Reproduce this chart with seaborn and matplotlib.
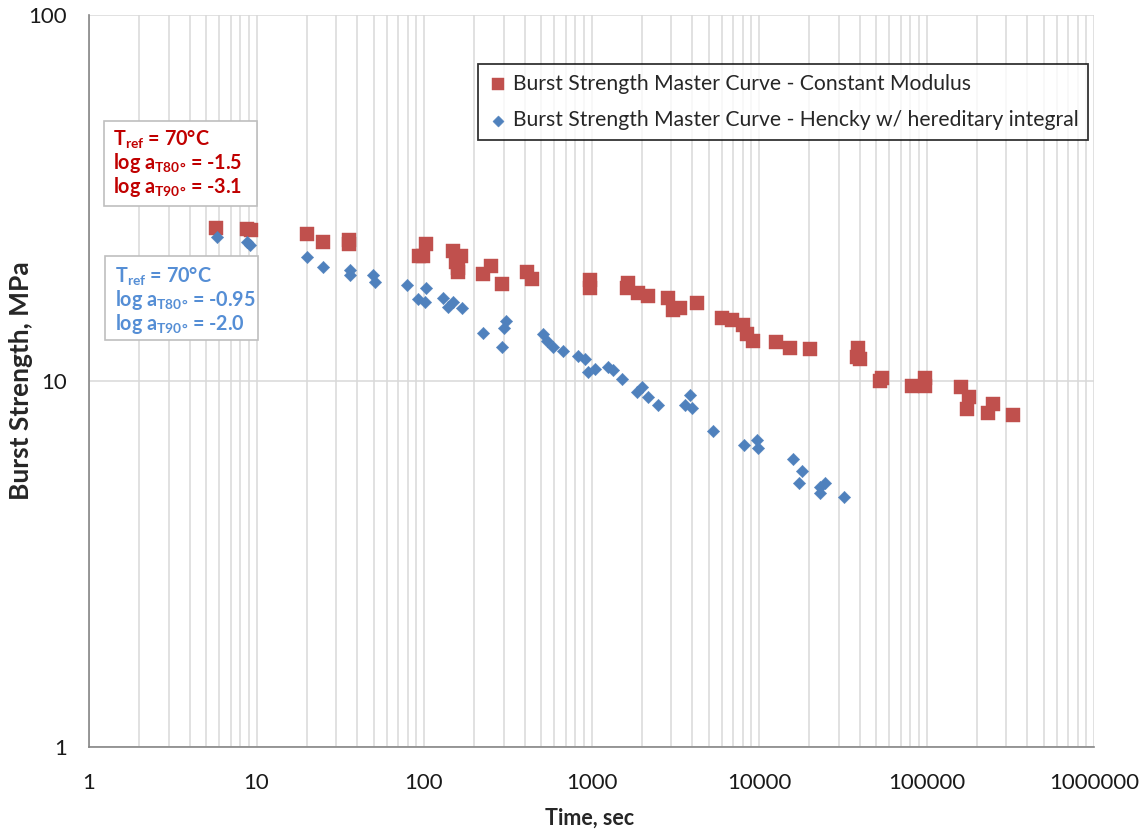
import numpy as np
import pandas as pd
import matplotlib
matplotlib.use("Agg")
import matplotlib.pyplot as plt
import matplotlib.ticker as mticker
from matplotlib.patches import Rectangle
import seaborn as sns

# Burst strength master curve, constant modulus model (time in s, strength in MPa)
const_time = [5.7, 8.8, 9.3, 20.0, 24.9, 35.7, 35.7, 93, 103, 99, 149, 166, 160, 155, 160,
              225, 251, 292, 412, 441, 979, 979, 1652, 1634, 1895, 2174, 2864, 3067, 3377,
              4266, 6012, 6900, 8020, 8480, 9205, 12630, 15300, 20150, 39000, 38500, 40100,
              54200, 53000, 81900, 98000, 98000, 160700, 179500, 174600, 233000, 249000, 328000]
const_strength = [26.2, 26.1, 25.8, 25.2, 24.0, 24.3, 23.7, 22.0, 23.7, 22.0, 22.6, 22.0, 20.4, 21.2, 19.8,
                  19.6, 20.6, 18.4, 19.9, 19.0, 18.0, 18.9, 18.5, 18.0, 17.4, 17.1, 16.9, 15.6, 15.8,
                  16.3, 14.9, 14.7, 14.2, 13.4, 12.9, 12.8, 12.3, 12.2, 12.3, 11.6, 11.5,
                  10.2, 10.0, 9.7, 10.2, 9.7, 9.6, 9.04, 8.38, 8.18, 8.65, 8.08]

# Burst strength master curve, Hencky strain with hereditary integral
hencky_time = [5.8, 8.8, 9.1, 20.0, 24.9, 36.2, 36.2, 49.6, 51.0, 79.2, 103, 92.1, 101, 130, 139,
               149, 169, 225, 292, 309, 300, 513, 542, 589, 676, 830, 914, 953, 1050, 1256,
               1343, 1521, 1870, 2002, 2174, 2495, 3873, 3615, 3981, 5310, 8130, 9730, 9860,
               15960, 18070, 17330, 23100, 24800, 23100, 32100]
hencky_strength = [24.7, 24.0, 23.5, 21.8, 20.5, 20.1, 19.5, 19.5, 18.6, 18.3, 17.9, 16.7, 16.4, 16.9, 15.9,
                   16.4, 15.8, 13.5, 12.4, 14.6, 14.0, 13.4, 12.9, 12.4, 12.1, 11.7, 11.5, 10.6, 10.8, 10.9,
                   10.7, 10.1, 9.33, 9.63, 9.04, 8.6, 9.16, 8.6, 8.43, 7.3, 6.68, 6.9, 6.56,
                   6.12, 5.68, 5.26, 5.13, 5.26, 4.94, 4.82]

series_names = ["Burst Strength Master Curve - Constant Modulus",
                "Burst Strength Master Curve - Hencky w/ hereditary integral"]
x_ticks = [1, 10, 100, 1000, 10000, 100000, 1000000]
y_ticks = [1, 10, 100]

red = "#C0504D"
blue = "#4F81BD"

sns.set_style("white")
plt.rcParams["font.family"] = ["Lato", "DejaVu Sans"]
plt.rcParams["mathtext.fontset"] = "custom"
plt.rcParams["mathtext.rm"] = "Lato"
plt.rcParams["mathtext.bf"] = "Lato:bold"
plt.rcParams["mathtext.it"] = "Lato:italic"

W, H = 1143, 832
fig = plt.figure(figsize=(W / 100, H / 100), dpi=100)
ax = fig.add_axes([89 / W, 1 - 747 / H, (1094 - 89) / W, (747 - 15) / H])

df_const = pd.DataFrame({"time": const_time, "strength": const_strength})
df_hencky = pd.DataFrame({"time": hencky_time, "strength": hencky_strength})

sns.scatterplot(data=df_const, x="time", y="strength", marker="s", s=95, color=red,
                edgecolor=red, linewidth=0.3, ax=ax, label=series_names[0], zorder=3)
sns.scatterplot(data=df_hencky, x="time", y="strength", marker="D", s=40, color=blue,
                edgecolor=blue, linewidth=0.3, ax=ax, label=series_names[1], zorder=4)

ax.set_xscale("log")
ax.set_yscale("log")
ax.set_xlim(1, 1e6)
ax.set_ylim(1, 100)

ax.xaxis.set_major_locator(mticker.FixedLocator(x_ticks))
ax.xaxis.set_minor_locator(mticker.LogLocator(base=10, subs=np.arange(2, 10), numticks=20))
ax.xaxis.set_major_formatter(mticker.FuncFormatter(lambda v, p: f"{int(round(v))}"))
ax.xaxis.set_minor_formatter(mticker.NullFormatter())
ax.yaxis.set_major_locator(mticker.FixedLocator(y_ticks))
ax.yaxis.set_minor_locator(mticker.NullLocator())
ax.yaxis.set_major_formatter(mticker.FuncFormatter(lambda v, p: f"{int(round(v))}"))

grid_c = "#d9d9d9"
ax.grid(True, which="major", axis="both", color=grid_c, linewidth=1.1, zorder=0)
ax.grid(True, which="minor", axis="x", color=grid_c, linewidth=1.1, zorder=0)
ax.set_axisbelow(True)

for side in ("top", "right"):
    ax.spines[side].set_visible(False)
for side in ("left", "bottom"):
    ax.spines[side].set_color("#868686")
    ax.spines[side].set_linewidth(1.2)

ax.tick_params(axis="both", which="major", direction="out", length=7, width=1.2,
               color="#868686", labelsize=16, labelcolor="#1a1a1a", pad=9)
ax.tick_params(axis="x", which="minor", length=0)
ax.tick_params(axis="x", which="major", pad=12)

ax.set_xlabel("Time, sec", fontsize=15.5, fontweight="bold", va="center")
ax.xaxis.set_label_coords(590 / W, 1 - 818 / H, transform=fig.transFigure)
ax.set_ylabel("Burst Strength, MPa", fontsize=19, fontweight="bold", va="center")
ax.yaxis.set_label_coords(21 / W, 1 - 381 / H, transform=fig.transFigure)

leg = ax.legend(loc="upper left", bbox_to_anchor=(478 / W, 1 - 64 / H),
                bbox_transform=fig.transFigure, frameon=True, fancybox=False,
                fontsize=15.2, handletextpad=0.2, handlelength=1.0, borderpad=0.45,
                labelspacing=0.8, markerscale=0.9, borderaxespad=0)
leg.get_frame().set_edgecolor("black")
leg.get_frame().set_linewidth(1.3)

# Shift-factor annotation boxes
def note_box(x0, y0, x1, y1, lines, color, tx, ys):
    fig.add_artist(Rectangle((x0 / W, 1 - y1 / H), (x1 - x0) / W, (y1 - y0) / H,
                             transform=fig.transFigure, facecolor="white",
                             edgecolor="#bfbfbf", linewidth=1.2, zorder=5))
    for line, y in zip(lines, ys):
        fig.text(tx / W, 1 - y / H, line, color=color, fontsize=14.2, fontweight="bold",
                 va="center", ha="left", zorder=6)

note_box(104, 121, 257, 206,
         [r"T$_\mathbf{ref}$ = 70°C",
          r"log a$_\mathbf{T80°}$ = -1.5",
          r"log a$_\mathbf{T90°}$ = -3.1"],
         "#C00000", 113, [139, 163, 187])
note_box(105, 256, 258, 340,
         [r"T$_\mathbf{ref}$ = 70°C",
          r"log a$_\mathbf{T80°}$ = -0.95",
          r"log a$_\mathbf{T90°}$ = -2.0"],
         "#558ED5", 115, [276, 300, 324])

fig.savefig("out.png", dpi=100)
